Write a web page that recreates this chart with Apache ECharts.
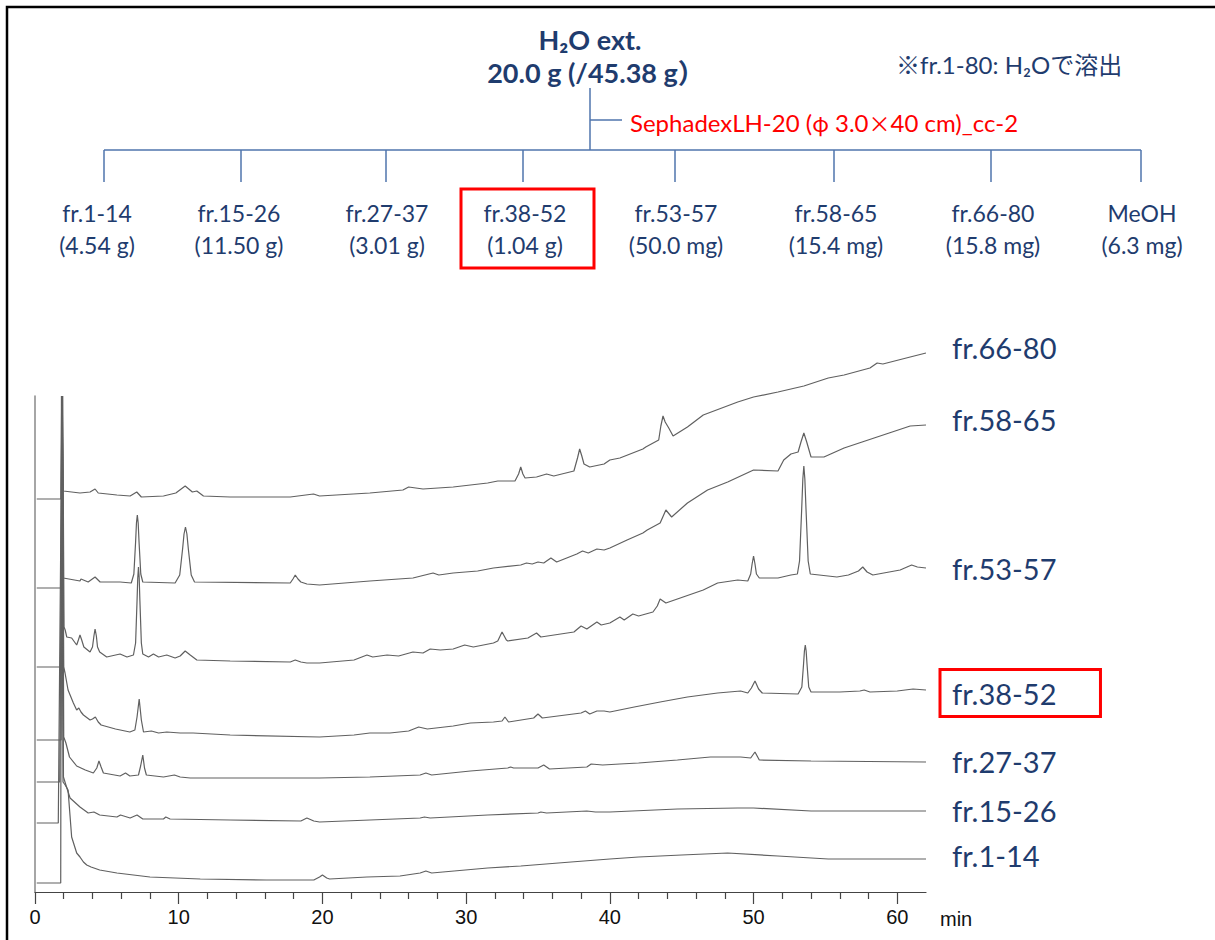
<!DOCTYPE html>
<html><head><meta charset="utf-8">
<script src="https://cdn.jsdelivr.net/npm/echarts@6/dist/echarts.min.js"></script>
<style>html,body{margin:0;padding:0;background:#fff}#c{width:1215px;height:940px}</style>
</head><body><div id="c"></div>
<script>
// ---------- text / category data ----------
const sourceTitle = 'H₂O ext.';
const sourceAmount = '20.0 g (/45.38 g）';
const columnNote = 'SephadexLH-20 (φ 3.0×40 cm)_cc-2';
const elutionNote = '※fr.1-80: H₂Oで溶出';
const fractionNames = ['fr.1-14', 'fr.15-26', 'fr.27-37', 'fr.38-52', 'fr.53-57', 'fr.58-65', 'fr.66-80', 'MeOH'];
const fractionYields = ['(4.54 g)', '(11.50 g)', '(3.01 g)', '(1.04 g)', '(50.0 mg)', '(15.4 mg)', '(15.8 mg)', '(6.3 mg)'];
const highlightedFraction = 'fr.38-52';
const tickValues = [0, 10, 20, 30, 40, 50, 60];
const axisUnit = 'min';

// ---------- chromatogram traces [time (min), stacked signal (a.u.)] ----------
const fr1_14 = [[0.12,9],[1.79,9],[1.84,496],[1.95,110],[2.1,107],[2.3,102],[2.55,55],[2.9,39],[3.13,35],[3.37,30],[3.6,27],[3.9,25],[4.5,22],[5.7,19],[8.0,15],[11.5,13],[16.1,12],[19.4,12],[19.8,15],[20.0,17],[20.3,14],[20.5,13],[23.1,15],[25.4,16],[26.8,19],[27.2,21],[27.6,19],[31.5,24],[33.8,26],[37.3,30],[40.0,33],[42.0,35],[45.0,37],[48.2,39],[51.7,36],[55.2,33],[62.0,33]];
const fr15_26 = [[0.12,69],[1.62,69],[1.88,496],[1.98,115],[2.15,107],[2.44,94],[3.13,85],[3.7,79],[4.1,80],[4.5,77],[5.7,75],[5.95,77],[6.62,74],[7.1,77],[7.5,73],[8.94,73],[9.1,75],[9.4,73],[13.58,72],[18.5,71],[18.92,74],[19.4,71],[19.8,70],[26.8,74],[27.1,75],[27.5,74],[31.5,77],[35.0,79],[35.2,80],[35.6,79],[38.4,81],[39.0,80],[40.0,80],[44.7,83],[48.9,84],[50.0,84],[54.0,81],[62.0,81]];
const fr27_37 = [[0.12,110],[1.72,110],[1.9,496],[2.0,155],[2.15,149],[2.4,135],[2.9,126],[3.5,122],[4.06,119],[4.3,124],[4.45,131],[4.6,125],[4.76,119],[5.92,116],[6.3,119],[6.6,116],[7.2,117],[7.35,126],[7.5,137],[7.62,124],[7.75,117],[8.94,115],[9.7,117],[10.1,115],[10.8,114],[19.8,114],[23.3,115],[26.8,117],[27.2,119],[27.6,117],[30.3,121],[32.9,124],[33.1,125],[33.3,124],[35.0,124],[35.4,127],[35.8,123],[38.4,125],[38.7,128],[39.5,127],[40.7,128],[42.0,129],[44.7,132],[47.0,135],[49.1,135],[49.8,134],[50.1,140],[50.4,132],[54.0,131],[62.0,130]];
const fr38_52 = [[0.12,152],[1.82,152],[1.9,496],[2.0,225],[2.09,219],[2.3,202],[2.67,189],[2.9,182],[3.05,184],[3.2,180],[3.37,177],[3.83,172],[4.0,173],[4.2,175],[4.4,170],[4.6,167],[5.6,163],[6.6,160],[6.95,162],[7.1,175],[7.25,193],[7.4,172],[7.55,160],[8.1,161],[8.6,159],[9.17,160],[10.1,159],[11.0,159],[13.58,157],[19.8,155],[22.2,157],[23.3,159],[24.7,159],[26.0,161],[26.7,165],[27.3,163],[29.1,166],[30.3,169],[31.9,170],[32.5,171],[32.7,175],[32.95,170],[34.7,174],[35.0,178],[35.3,174],[38.0,179],[38.3,181],[38.6,178],[39.1,181],[39.6,181],[40.0,180],[41.7,185],[43.5,190],[45.4,195],[47.5,199],[49.1,201],[49.6,199],[49.85,204],[50.1,211],[50.35,203],[50.6,199],[53.1,198],[53.36,205],[53.48,228],[53.54,241],[53.6,247],[53.66,241],[53.72,228],[53.84,205],[54.0,200],[56.0,200],[57.4,201],[57.7,202],[58.1,200],[60.0,201],[61.1,203],[62.0,202]];
const fr53_57 = [[0.12,225],[1.86,225],[1.93,496],[2.02,265],[2.1,262],[2.21,255],[2.55,254],[2.9,247],[3.02,252],[3.13,257],[3.25,252],[3.4,245],[3.83,240],[4.0,245],[4.1,256],[4.18,263],[4.27,256],[4.35,245],[4.5,240],[4.99,235],[5.92,238],[6.4,235],[6.85,237],[7.0,249],[7.1,291],[7.15,314],[7.2,325],[7.25,314],[7.3,291],[7.4,249],[7.5,238],[7.9,235],[8.24,238],[8.6,235],[9.17,237],[9.75,234],[10.1,236],[10.45,241],[10.8,237],[11.26,232],[13.58,231],[17.76,230],[18.11,232],[18.5,230],[18.92,229],[19.8,229],[22.2,232],[23.1,237],[23.5,235],[24.5,237],[25.3,236],[26.3,240],[27.0,239],[27.5,243],[28.2,242],[29.1,243],[29.9,247],[30.5,245],[31.9,249],[32.2,251],[32.5,260],[32.8,252],[32.9,251],[34.3,254],[34.9,259],[35.2,255],[37.5,260],[38.0,266],[38.4,263],[39.1,270],[39.4,267],[40.0,269],[40.7,275],[41.0,272],[41.6,278],[42.0,276],[43.0,280],[43.3,286],[43.5,293],[43.9,289],[45.1,295],[46.5,302],[47.5,309],[48.9,312],[49.6,311],[49.8,318],[49.9,328],[50.0,336],[50.1,328],[50.2,318],[50.4,314],[51.7,314],[52.6,317],[53.05,318],[53.2,331],[53.35,383],[53.43,413],[53.5,426],[53.57,413],[53.65,383],[53.8,331],[53.95,318],[55.8,315],[56.6,317],[57.3,321],[57.6,325],[57.9,320],[58.3,317],[60.2,322],[61.0,327],[61.4,325],[62.0,324]];
const fr58_65 = [[0.12,304],[1.82,304],[1.9,496],[1.97,314],[3.13,311],[3.2,313],[3.7,310],[4.18,315],[4.53,310],[5.92,310],[6.7,309],[6.88,318],[7.0,350],[7.06,369],[7.12,377],[7.18,369],[7.24,350],[7.36,318],[7.5,310],[9.75,309],[10.07,317],[10.27,343],[10.37,358],[10.47,365],[10.57,358],[10.67,343],[10.87,317],[11.1,310],[17.76,309],[17.95,313],[18.11,317],[18.3,313],[18.5,310],[18.92,308],[19.8,307],[23.3,311],[26.3,314],[27.7,319],[28.1,317],[29.1,319],[30.8,321],[31.9,324],[33.8,327],[34.2,329],[34.6,328],[35.0,330],[35.4,329],[35.9,334],[36.3,330],[37.7,338],[38.1,341],[38.5,339],[39.1,343],[39.6,342],[40.0,344],[41.2,352],[42.3,359],[42.6,362],[43.5,369],[43.9,382],[44.3,375],[45.4,389],[46.8,402],[48.2,410],[50.0,422],[51.7,421],[52.1,432],[52.6,438],[53.1,440],[53.3,450],[53.5,459],[53.7,450],[54.0,435],[54.9,435],[56.3,444],[58.6,455],[60.9,466],[62.0,467]];
const fr66_80 = [[0.12,393],[1.8,393],[1.86,496],[1.97,401],[3.13,399],[3.83,400],[4.18,403],[4.4,399],[5.7,397],[6.62,396],[7.08,400],[7.4,395],[8.94,396],[9.8,399],[10.45,406],[10.95,400],[11.26,401],[11.72,396],[13.58,395],[17.76,395],[19.38,398],[19.8,396],[23.3,399],[25.6,402],[26.0,405],[27.0,403],[29.1,405],[31.5,409],[32.2,411],[33.4,411],[33.65,418],[33.8,425],[33.95,418],[34.1,414],[34.9,415],[35.6,418],[36.1,416],[37.5,421],[37.75,434],[37.9,443],[38.05,436],[38.2,428],[38.6,425],[39.6,428],[40.0,432],[40.7,434],[42.3,443],[42.5,445],[43.4,452],[43.55,466],[43.7,476],[43.85,470],[44.1,464],[44.4,456],[45.4,465],[46.5,477],[48.9,490],[50.0,495],[51.7,500],[53.5,506],[55.2,514],[56.3,517],[58.1,524],[58.6,529],[59.0,528],[60.9,535],[62.0,539]];
const traceNames = ['fr.1-14', 'fr.15-26', 'fr.27-37', 'fr.38-52', 'fr.53-57', 'fr.58-65', 'fr.66-80'];
const traceData = [fr1_14, fr15_26, fr27_37, fr38_52, fr53_57, fr58_65, fr66_80];

// ---------- styling / layout ----------
const BLUE = '#1f3c6e';
const RED = '#ff0000';
const TREE = '#4f74ad';
const LATIN = "Lato, 'Noto Sans CJK JP', sans-serif";
const CJK = "'Noto Sans CJK JP', sans-serif";
const labelOffsets = [-4, -1, -1, 3, 0, -6, -6];
const dropX = [104, 241, 386, 523, 675, 834, 991, 1141];
const labelX = [97, 239, 387, 525, 676, 836, 993, 1142];

const chart = echarts.init(document.getElementById('c'), null, { renderer: 'svg' });

// full-width symbols (φ, ×) are set in the CJK face as in the original
const richColumnNote = columnNote.replace(/([φ×])/g, '{w|$1}');

const graphics = [];
graphics.push({ type: 'rect', shape: { x: 7, y: 7, width: 1230, height: 960 }, style: { fill: 'none', stroke: '#000', lineWidth: 2.5 }, silent: true });
graphics.push({ type: 'text', style: { text: sourceTitle, x: 590, y: 39, fill: BLUE, fontFamily: LATIN, fontSize: 27, fontWeight: 'bold', align: 'center', verticalAlign: 'middle' } });
graphics.push({ type: 'text', style: { text: sourceAmount, x: 596, y: 72, fill: BLUE, fontFamily: LATIN, fontSize: 27, fontWeight: 'bold', align: 'center', verticalAlign: 'middle' } });
graphics.push({ type: 'text', style: { text: elutionNote, x: 896, y: 64, fill: BLUE, fontFamily: LATIN, fontSize: 24, align: 'left', verticalAlign: 'middle' } });
graphics.push({ type: 'text', style: { text: richColumnNote, x: 630, y: 122, fill: RED, fontFamily: LATIN, fontSize: 24, align: 'left', verticalAlign: 'middle',
  rich: { w: { fontFamily: CJK, fontSize: 22, fill: RED } } } });
const ln = (x1, y1, x2, y2) => ({ type: 'line', shape: { x1, y1, x2, y2 }, style: { stroke: TREE, lineWidth: 1.5 }, silent: true });
graphics.push(ln(590, 88, 590, 150));
graphics.push(ln(590, 120, 622, 120));
graphics.push(ln(dropX[0], 150, dropX[dropX.length - 1], 150));
dropX.forEach(x => graphics.push(ln(x, 150, x, 182)));
fractionNames.forEach((name, i) => {
  graphics.push({ type: 'text', style: { text: name, x: labelX[i], y: 213, fill: BLUE, fontFamily: LATIN, fontSize: 23, align: 'center', verticalAlign: 'middle' } });
  graphics.push({ type: 'text', style: { text: fractionYields[i], x: labelX[i], y: 245, fill: BLUE, fontFamily: LATIN, fontSize: 23, align: 'center', verticalAlign: 'middle' } });
  if (name === highlightedFraction) {
    graphics.push({ type: 'rect', shape: { x: 461, y: 189, width: 133, height: 79 }, style: { fill: 'none', stroke: RED, lineWidth: 3 }, silent: true });
  }
});

const series = traceData.map((data, i) => {
  const hl = traceNames[i] === highlightedFraction;
  return {
    name: traceNames[i],
    type: 'line',
    data: data,
    showSymbol: false,
    clip: false,
    silent: true,
    lineStyle: { color: '#606060', width: 1.2 },
    endLabel: {
      show: true,
      formatter: p => p.seriesName,
      color: BLUE,
      fontFamily: LATIN,
      fontSize: 29,
      distance: hl ? 14 : 26,
      offset: [0, labelOffsets[i]],
      padding: hl ? [9, 44, 9, 12] : 0,
      borderColor: hl ? RED : 'transparent',
      borderWidth: hl ? 3 : 0
    }
  };
});

chart.setOption({
  animation: false,
  backgroundColor: '#fff',
  grid: { left: 35, right: 289, top: 396, bottom: 48, containLabel: false },
  xAxis: {
    type: 'value', min: 0, max: 62, interval: 10,
    name: axisUnit, nameLocation: 'end', nameGap: 14,
    nameTextStyle: { fontSize: 20, fontFamily: 'Liberation Sans', color: '#111', verticalAlign: 'top', padding: [17, 0, 0, 0] },
    axisLine: { lineStyle: { color: '#444', width: 1.2 } },
    axisTick: { show: true, length: 12, customValues: tickValues, lineStyle: { color: '#444', width: 1.2 } },
    minorTick: { show: true, splitNumber: 5, length: 7, lineStyle: { color: '#444', width: 1.2 } },
    axisLabel: { customValues: tickValues, fontSize: 20, fontFamily: 'Liberation Sans', color: '#111', margin: 15 },
    splitLine: { show: false }
  },
  yAxis: {
    type: 'value', min: 0, max: 496, offset: 1.5,
    axisLine: { show: true, lineStyle: { color: '#888', width: 1.5 } },
    axisTick: { show: false }, axisLabel: { show: false }, splitLine: { show: false }
  },
  series: series,
  graphic: graphics
});
</script>
</body></html>
